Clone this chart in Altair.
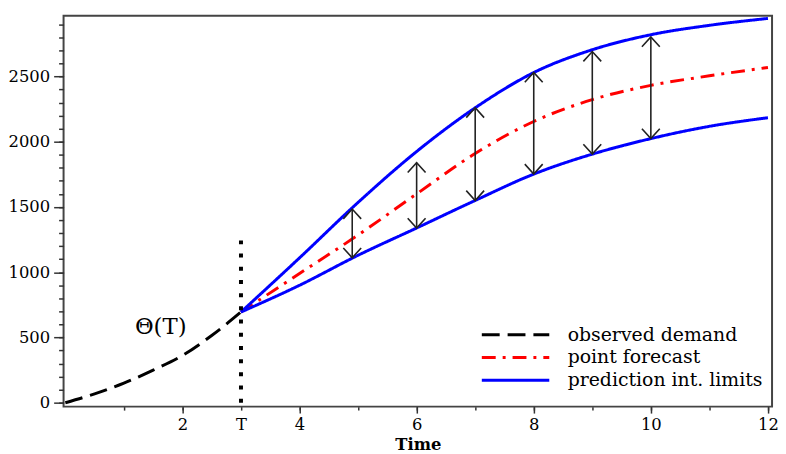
import altair as alt
import pandas as pd

# ---- data ----
obs_x = [0, 0.5, 1, 1.5, 2, 2.5, 3]
obs_y = [0, 68, 150, 250, 362, 515, 695]

fc_x = [3, 4, 5, 6, 7, 8, 9, 10, 11, 12]
fc_point = [695, 990, 1285, 1600, 1910, 2155, 2323, 2432, 2505, 2569]
fc_upper = [695, 1110, 1535, 1925, 2260, 2530, 2705, 2820, 2892, 2945]
fc_lower = [695, 900, 1130, 1339, 1550, 1752, 1905, 2024, 2118, 2184]

arrow_x = [4.9, 6, 7, 8, 9, 10]
arrow_lo = [1111, 1339, 1550, 1753, 1905, 2024]
arrow_hi = [1484, 1839, 2260, 2531, 2691, 2803]

T_x = [3]
T_lo = [0]
T_hi = [1245]

theta_label = ["Θ(T)"]
theta_x = [1.63]
theta_y = [581]

series_names = ["observed demand", "point forecast", "prediction int. limits"]
series_colors = ["#000000", "#ff0000", "#0000ff"]
series_dash = [[18, 8], [14, 7, 3, 7], [1, 0]]
series_width = [3, 3, 4]

x_minor = list(range(1, 13))
x_major = [2, 3, 4, 6, 8, 10, 12]
y_minor = list(range(0, 3000, 100))
y_major = [0, 500, 1000, 1500, 2000, 2500]

# ---- tables ----
rows = []
for x, y in zip(obs_x, obs_y):
    rows.append({"x": x, "y": y, "series": series_names[0], "curve": "obs"})
for x, y in zip(fc_x, fc_point):
    rows.append({"x": x, "y": y, "series": series_names[1], "curve": "point"})
for x, y in zip(fc_x, fc_upper):
    rows.append({"x": x, "y": y, "series": series_names[2], "curve": "upper"})
for x, y in zip(fc_x, fc_lower):
    rows.append({"x": x, "y": y, "series": series_names[2], "curve": "lower"})
df_lines = pd.DataFrame(rows)

df_arrows = pd.DataFrame({"x": arrow_x, "lo": arrow_lo, "hi": arrow_hi})
df_T = pd.DataFrame({"x": T_x, "lo": T_lo, "hi": T_hi})
df_theta = pd.DataFrame({"x": theta_x, "y": theta_y, "label": theta_label})

xs = alt.Scale(domain=[-0.03, 12.07], nice=False, zero=False)
ys = alt.Scale(domain=[-30, 2966], nice=False, zero=False)

FONT = "DejaVu Serif"

leg = alt.Legend(
    orient="none", legendX=420, legendY=310, title=None,
    symbolType="stroke", symbolSize=4624, labelOffset=17,
    labelFont=FONT, labelFontSize=19, labelColor="black", labelLimit=400,
    clipHeight=23, rowPadding=0, padding=0, offset=0,
)

lines = alt.Chart(df_lines).mark_line(interpolate="monotone").encode(
    x=alt.X("x:Q", scale=xs, axis=alt.Axis(values=x_minor, tickSize=3.5, labels=False,
                                            title=None, orient="bottom")),
    y=alt.Y("y:Q", scale=ys, axis=alt.Axis(values=y_minor, tickSize=5, labels=False,
                                            title=None, orient="left")),
    color=alt.Color("series:N", scale=alt.Scale(domain=series_names, range=series_colors), legend=leg),
    strokeDash=alt.StrokeDash("series:N", scale=alt.Scale(domain=series_names, range=series_dash), legend=leg),
    strokeWidth=alt.StrokeWidth("series:N", scale=alt.Scale(domain=series_names, range=series_width), legend=leg),
    detail="curve:N",
)

arrows = alt.Chart(df_arrows).mark_rule(color="#222222", strokeWidth=1.6).encode(
    x=alt.X("x:Q", scale=xs, axis=alt.Axis(
        values=x_major, tickSize=6.5, labelPadding=4, orient="bottom",
        labelExpr="datum.value == 3 ? 'T' : datum.label",
        tickOpacity={"condition": {"test": "datum.value == 3", "value": 0}, "value": 1},
        title="Time", titleFont=FONT, titleFontSize=16.5, titleFontWeight="bold",
        titleColor="black", titleY=46, titleBaseline="bottom")),
    y=alt.Y("lo:Q", scale=ys, axis=alt.Axis(values=y_major, tickSize=10, labelPadding=4,
                                             format="d", orient="left", title=None)),
    y2="hi:Q",
)

heads_top = alt.Chart(df_arrows).mark_point(
    shape="M-1,1.1L0,0L1,1.1", size=324, filled=False, stroke="#222222",
    strokeWidth=1.6, opacity=1,
).encode(
    x=alt.X("x:Q", scale=xs, axis=None),
    y=alt.Y("hi:Q", scale=ys, axis=None),
)
heads_bot = alt.Chart(df_arrows).mark_point(
    shape="M-1,-1.1L0,0L1,-1.1", size=324, filled=False, stroke="#222222",
    strokeWidth=1.6, opacity=1,
).encode(
    x=alt.X("x:Q", scale=xs, axis=None),
    y=alt.Y("lo:Q", scale=ys, axis=None),
)

tline = alt.Chart(df_T).mark_rule(color="black", strokeWidth=4, strokeDash=[4, 9.3]).encode(
    x=alt.X("x:Q", scale=xs, axis=None),
    y=alt.Y("lo:Q", scale=ys, axis=None),
    y2="hi:Q",
)

theta = alt.Chart(df_theta).mark_text(font=FONT, fontSize=23, color="black",
                                      align="center", baseline="middle").encode(
    x=alt.X("x:Q", scale=xs, axis=None),
    y=alt.Y("y:Q", scale=ys, axis=None),
    text="label:N",
)

chart = alt.layer(lines, tline, arrows, heads_top, heads_bot, theta).resolve_scale(
    x="shared", y="shared"
).resolve_axis(
    x="independent", y="independent"
).properties(
    width=714, height=394,
    autosize=alt.AutoSizeParams(type="none"),
    padding={"left": 56, "top": 6, "right": 6, "bottom": 46},
).configure_axis(
    labelFont=FONT, labelFontSize=16.5, labelColor="black",
    tickColor="#333333", tickWidth=1.5, domain=False, grid=False,
).configure_view(
    stroke="#444444", strokeWidth=2,
)

chart.save("out.html", embed_options={"renderer": "svg", "actions": False})
